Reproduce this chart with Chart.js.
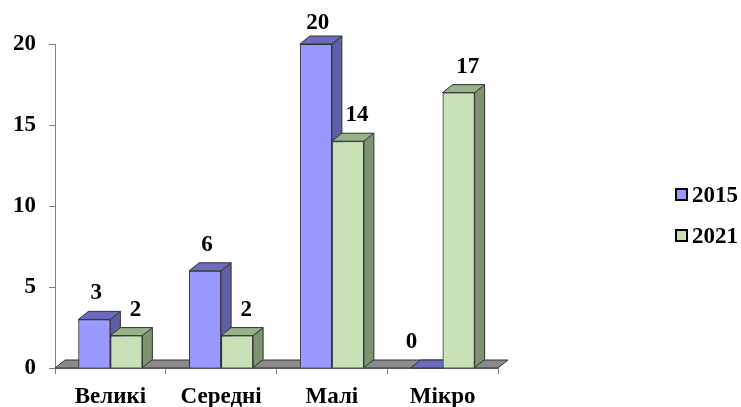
<!DOCTYPE html>
<html><head><meta charset="utf-8">
<script src="https://cdn.jsdelivr.net/npm/chart.js@4/dist/chart.umd.min.js"></script>
<style>html,body{margin:0;padding:0;background:#fff;} #wrap{width:741px;height:407px;position:relative}</style>
</head><body><div id="wrap"><canvas id="c"></canvas></div>
<script>
const categories = ['Великі', 'Середні', 'Малі', 'Мікро'];
const seriesNames = ['2015', '2021'];
const values2015 = [3, 6, 20, 0];
const values2021 = [2, 2, 14, 17];
const yTicks = [0, 5, 10, 15, 20];

const FONT = '"Liberation Serif", "Times New Roman", serif';
const DX = 10, DY = 8;
const faces = [
  {front: '#9999FF', top: '#6B6BBF', side: '#5F5FA6'},
  {front: '#C8E2B8', top: '#98B28A', side: '#7E9470'}
];
const EDGE = '#333333';

function poly(ctx, pts, fill) {
  ctx.beginPath();
  ctx.moveTo(pts[0][0], pts[0][1]);
  for (let i = 1; i < pts.length; i++) ctx.lineTo(pts[i][0], pts[i][1]);
  ctx.closePath();
  ctx.fillStyle = fill; ctx.fill();
  ctx.strokeStyle = EDGE; ctx.lineWidth = 1; ctx.stroke();
}

const bar3d = {
  id: 'bar3d',
  beforeDatasetsDraw(chart) {
    const {ctx, chartArea: a} = chart;
    ctx.save();
    poly(ctx, [[a.left, a.bottom], [a.right, a.bottom], [a.right + DX, a.bottom - DY], [a.left + DX, a.bottom - DY]], '#8A8A8A');
    ctx.restore();
  },
  afterDatasetsDraw(chart) {
    const ctx = chart.ctx;
    ctx.save();
    chart.data.datasets.forEach((ds, i) => {
      const f = faces[i];
      chart.getDatasetMeta(i).data.forEach(el => {
        const l = el.x - el.width / 2, r = el.x + el.width / 2, t = el.y, b = el.base;
        el.draw(ctx);
        if (b - t > 0.5) {
          poly(ctx, [[r, t], [r + DX, t - DY], [r + DX, b - DY], [r, b]], f.side);
        }
        poly(ctx, [[l, t], [r, t], [r + DX, t - DY], [l + DX, t - DY]], f.top);
      });
    });
    ctx.font = 'bold 23px ' + FONT;
    ctx.fillStyle = '#000';
    ctx.textAlign = 'center';
    ctx.textBaseline = 'middle';
    chart.data.datasets.forEach((ds, i) => {
      chart.getDatasetMeta(i).data.forEach((el, j) => {
        const v = ds.data[j];
        let x = el.x + (i === 0 ? 2 : 9);
        if (v === 0) x = el.x - 15;
        const y = Math.max(el.y - DY - 18, chart.chartArea.top - 21);
        ctx.fillText(String(v), x, y);
      });
    });
    ctx.restore();
  },
  afterDraw(chart) {
    const ctx = chart.ctx;
    ctx.save();
    ctx.font = 'bold 23px ' + FONT;
    ctx.textBaseline = 'middle';
    ctx.textAlign = 'left';
    const rows = [195, 236];
    chart.data.datasets.forEach((ds, i) => {
      const y = rows[i];
      ctx.fillStyle = ds.backgroundColor;
      ctx.fillRect(676, y - 6, 11, 11);
      ctx.strokeStyle = '#000'; ctx.lineWidth = 2;
      ctx.strokeRect(676, y - 6, 11, 11);
      ctx.fillStyle = '#000';
      ctx.fillText(ds.label, 692, y + 1);
    });
    ctx.restore();
  }
};

new Chart(document.getElementById('c'), {
  type: 'bar',
  data: {
    labels: categories,
    datasets: [
      {label: seriesNames[0], data: values2015, backgroundColor: faces[0].front, borderColor: EDGE, borderWidth: 1, categoryPercentage: 0.578, barPercentage: 1},
      {label: seriesNames[1], data: values2021, backgroundColor: faces[1].front, borderColor: EDGE, borderWidth: 1, categoryPercentage: 0.578, barPercentage: 1}
    ]
  },
  options: {
    responsive: true,
    maintainAspectRatio: false,
    animation: false,
    layout: {padding: {top: 44, right: 243, left: 0, bottom: 0}},
    plugins: {legend: {display: false}, tooltip: {enabled: false}},
    scales: {
      x: {
        grid: {display: true, drawOnChartArea: false, offset: true, tickLength: 6, color: '#808080'},
        border: {display: true, color: '#808080'},
        ticks: {color: '#000', font: {family: FONT, size: 23, weight: 'bold'}, padding: 9, maxRotation: 0},
        afterFit(s) { s.height = 39; }
      },
      y: {
        min: 0, max: 20,
        afterBuildTicks(s) { s.ticks = yTicks.map(v => ({value: v})); },
        grid: {display: true, drawOnChartArea: false, tickLength: 6, color: '#808080'},
        border: {display: true, color: '#808080'},
        ticks: {color: '#000', font: {family: FONT, size: 23, weight: 'bold'}, padding: 13},
        afterFit(s) { s.width = 55; }
      }
    }
  },
  plugins: [bar3d]
});
</script></body></html>
